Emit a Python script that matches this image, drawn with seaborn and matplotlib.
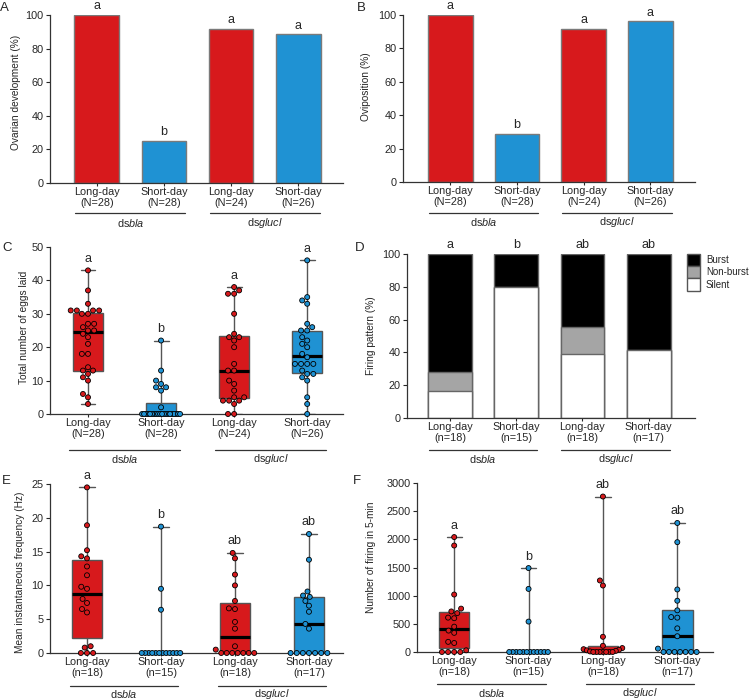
import numpy as np
import pandas as pd
import seaborn as sns
import matplotlib.pyplot as plt
from matplotlib.patches import Patch
from matplotlib.transforms import offset_copy

sns.set_style("ticks")
plt.rcParams["font.family"] = ["Liberation Sans", "DejaVu Sans"]
plt.rcParams["mathtext.fontset"] = "custom"
plt.rcParams["mathtext.rm"] = "Liberation Sans"
plt.rcParams["mathtext.it"] = "Liberation Sans:italic"

# --------------------------------------------------
# Data
# --------------------------------------------------
groups = ["bla_LD", "bla_SD", "glucl_LD", "glucl_SD"]
colors = ["#d7191c", "#1f92d3", "#d7191c", "#1f92d3"]
group_names = [r"ds$\mathit{bla}$", r"ds$\mathit{glucl}$"]

labels_N = ["Long-day\n(N=28)", "Short-day\n(N=28)", "Long-day\n(N=24)", "Short-day\n(N=26)"]
labels_n = ["Long-day\n(n=18)", "Short-day\n(n=15)", "Long-day\n(n=18)", "Short-day\n(n=17)"]

# A / B: percentages
ovary_pct = [100, 25.0, 91.7, 88.5]
ovary_letters = ["a", "b", "a", "a"]
ovipos_pct = [100, 28.6, 91.7, 96.2]
ovipos_letters = ["a", "b", "a", "a"]

# C: eggs laid per female
eggs_bla_ld = [43, 37, 33, 31, 31, 31, 31, 30, 30, 27, 27, 26, 25, 25, 24, 23, 21,
               18, 18, 14, 13, 13, 12, 11, 10, 6, 5, 3]
eggs_bla_sd = [22, 13, 10, 9, 8, 8, 7, 2] + [0] * 20
eggs_glucl_ld = [38, 37, 36, 36, 30, 24, 23, 23, 22, 20, 15, 13, 13, 10, 9, 7, 5, 5,
                 4, 4, 4, 3, 0, 0]
eggs_glucl_sd = [46, 35, 34, 33, 27, 26, 25, 25, 23, 22, 21, 20, 18, 17, 15, 15, 15,
                 15, 13, 12, 12, 11, 10, 5, 3, 0]
eggs_letters = ["a", "b", "a", "a"]

# D: firing pattern (%)
silent = [16.7, 80.0, 38.9, 41.2]
nonburst = [11.1, 0.0, 16.7, 0.0]
burst = [72.2, 20.0, 44.4, 58.8]
firing_letters = ["a", "b", "ab", "ab"]

# E: mean instantaneous frequency (Hz)
freq_bla_ld = [24.5, 18.9, 15.2, 14.3, 14.0, 12.8, 11.5, 9.8, 9.5, 8.0, 7.4, 6.5,
               6.0, 1.0, 0.8, 0, 0, 0]
freq_bla_sd = [18.7, 9.5, 6.4] + [0] * 12
freq_glucl_ld = [14.8, 14.0, 11.6, 10.0, 7.7, 6.6, 6.5, 4.6, 3.6, 1.0, 0.5] + [0] * 7
freq_glucl_sd = [17.6, 13.8, 9.1, 8.5, 8.3, 7.7, 7.0, 6.1, 4.3, 3.6] + [0] * 7
freq_letters = ["a", "b", "ab", "ab"]

# F: number of firing in 5-min
count_bla_ld = [2040, 1890, 1020, 770, 720, 690, 610, 600, 450, 380, 340, 180, 160,
                30, 0, 0, 0, 0]
count_bla_sd = [1490, 1120, 540] + [0] * 12
count_glucl_ld = [2760, 1270, 1180, 270, 110, 70, 50, 40, 30, 20, 10] + [0] * 7
count_glucl_sd = [2290, 1950, 1110, 910, 740, 620, 610, 420, 280, 60] + [0] * 7
count_letters = ["a", "b", "ab", "ab"]

# --------------------------------------------------
# Helpers
# --------------------------------------------------
W, H = 749, 700
fig = plt.figure(figsize=(W / 100, H / 100), dpi=100)
TICK_FS = 7.8
swarm_layers = []


def px_axes(left, top, right, bottom):
    return fig.add_axes([left / W, 1 - bottom / H, (right - left) / W, (bottom - top) / H])


def style_axis(ax, ticklabels, ylabel, ylim, yticks, xlim, lab_xy,
               ul_span=0.8, ul_off=32, gl_off=41):
    ax.set_xlim(*xlim)
    ax.set_ylim(*ylim)
    ax.set_yticks(yticks)
    ax.set_xticks(range(4))
    ax.set_xticklabels(ticklabels, fontsize=TICK_FS, linespacing=1.1)
    ax.set_xlabel("")
    ax.set_ylabel(ylabel, fontsize=7.3)
    ax.yaxis.set_label_coords(*lab_xy)
    ax.tick_params(axis="y", length=3, width=0.8, labelsize=TICK_FS, pad=1.5)
    ax.tick_params(axis="x", length=2, width=0.8, pad=1.2)
    for s in ["top", "right"]:
        ax.spines[s].set_visible(False)
    for s in ["left", "bottom"]:
        ax.spines[s].set_color("#333333")
        ax.spines[s].set_linewidth(0.9)
    # group underline + names
    t_line = offset_copy(ax.get_xaxis_transform(), fig=fig, y=-ul_off, units="dots")
    t_name = offset_copy(ax.get_xaxis_transform(), fig=fig, y=-gl_off, units="dots")
    for k, name in enumerate(group_names):
        c = 0.5 + 2 * k
        ax.plot([c - ul_span, c + ul_span], [0, 0], color="#333333", lw=0.9,
                transform=t_line, clip_on=False)
        ax.text(c, 0, name, transform=t_name, ha="center", va="center", fontsize=TICK_FS)


def add_letters(ax, tops, letters, off=3):
    for i, (t, l) in enumerate(zip(tops, letters)):
        ax.annotate(l, xy=(i, t), xytext=(0, off), textcoords="offset points",
                    ha="center", va="bottom", fontsize=9, annotation_clip=False)


def bar_panel(ax, values):
    sns.barplot(x=groups, y=values, order=groups, hue=groups, hue_order=groups,
                palette=colors, saturation=1, width=0.67, edgecolor="#7a7a7a",
                linewidth=1, errorbar=None, legend=False, ax=ax)


def box_panel(ax, series):
    df = pd.DataFrame({"grp": np.repeat(groups, [len(s) for s in series]),
                       "val": np.concatenate(series)})
    sns.boxplot(data=df, x="grp", y="val", order=groups, hue="grp", hue_order=groups,
                palette=colors, saturation=1, width=0.41, whis=(0, 100),
                showfliers=False, linecolor="#555555", linewidth=1,
                medianprops=dict(color="black", linewidth=2.3), legend=False, ax=ax)
    n0 = len(ax.collections)
    sns.swarmplot(data=df, x="grp", y="val", order=groups, hue="grp", hue_order=groups,
                  palette=colors, size=3.6, edgecolor="black", linewidth=0.6,
                  legend=False, ax=ax, zorder=3, warn_thresh=1)
    for c in ax.collections[n0:]:
        c.set_clip_on(False)
        swarm_layers.append((ax, c))
    return [max(s) for s in series]


def squeeze_rows(ax, coll, half=0.26, band_px=4):
    # Prism-style: long rows of equal values are squeezed (overlapping) into the box width
    xy = np.asarray(coll.get_offsets(), dtype=float).copy()
    if len(xy) < 2:
        return
    center = np.round(np.median(xy[:, 0]))
    ypx = ax.transData.transform(xy)[:, 1]
    bands = np.floor((ypx - ypx.min()) / band_px)
    for b in np.unique(bands):
        idx = np.where(bands == b)[0]
        dx = xy[idx, 0] - center
        if len(idx) > 1 and np.abs(dx).max() > half:
            order = idx[np.argsort(dx)]
            xy[order, 0] = center + np.linspace(-half, half, len(idx))
    coll.set_offsets(xy)


# --------------------------------------------------
# A: ovarian development
# --------------------------------------------------
axA = px_axes(50, 15, 343, 183)
bar_panel(axA, ovary_pct)
style_axis(axA, labels_N, "Ovarian development (%)", (0, 100), range(0, 101, 20),
           (-0.70, 3.67), (-0.10, 0.54), ul_span=0.82, ul_off=30, gl_off=40)
add_letters(axA, ovary_pct, ovary_letters, off=2)

# --------------------------------------------------
# B: oviposition
# --------------------------------------------------
axB = px_axes(403, 15, 695, 182)
bar_panel(axB, ovipos_pct)
style_axis(axB, labels_N, "Oviposition (%)", (0, 100), range(0, 101, 20),
           (-0.71, 3.67), (-0.111, 0.57), ul_span=0.82, ul_off=31, gl_off=40)
add_letters(axB, ovipos_pct, ovipos_letters, off=2)

# --------------------------------------------------
# C: eggs laid
# --------------------------------------------------
axC = px_axes(50, 247, 343, 414)
tops = box_panel(axC, [eggs_bla_ld, eggs_bla_sd, eggs_glucl_ld, eggs_glucl_sd])
style_axis(axC, labels_N, "Total number of eggs laid", (0, 50), range(0, 51, 10),
           (-0.52, 3.49), (-0.070, 0.52), ul_span=0.76, ul_off=36, gl_off=45)
add_letters(axC, tops, eggs_letters, off=4)

# --------------------------------------------------
# D: firing pattern (stacked)
# --------------------------------------------------
axD = px_axes(407, 254, 695, 418)
tot = [s + n + b for s, n, b in zip(silent, nonburst, burst)]
mid = [s + n for s, n in zip(silent, nonburst)]
for vals, col in [(tot, "black"), (mid, "#a5a5a5"), (silent, "white")]:
    sns.barplot(x=groups, y=vals, order=groups, color=col, saturation=1, width=0.66,
                edgecolor="#666666", linewidth=1, errorbar=None, ax=axD)
style_axis(axD, labels_n, "Firing pattern (%)", (0, 100), range(0, 101, 20),
           (-0.65, 3.70), (-0.109, 0.5), ul_span=0.82, ul_off=32, gl_off=41)
add_letters(axD, tot, firing_letters, off=2)
axD.legend(handles=[Patch(fc="black", ec="#555555", label="Burst"),
                    Patch(fc="#a5a5a5", ec="#555555", label="Non-burst"),
                    Patch(fc="white", ec="#555555", label="Silent")],
           loc="upper left", bbox_to_anchor=(0.972, 1.0), frameon=False, fontsize=7,
           handlelength=1.35, handleheight=1.55, labelspacing=0, handletextpad=0.6,
           borderpad=0, borderaxespad=0)

# --------------------------------------------------
# E: mean instantaneous frequency
# --------------------------------------------------
axE = px_axes(50, 484, 343, 653)
tops = box_panel(axE, [freq_bla_ld, freq_bla_sd, freq_glucl_ld, freq_glucl_sd])
style_axis(axE, labels_n, "Mean instantaneous frequency (Hz)", (0, 25), range(0, 26, 5),
           (-0.50, 3.46), (-0.084, 0.48), ul_span=0.73, ul_off=33, gl_off=41)
add_letters(axE, tops, freq_letters, off=4)

# --------------------------------------------------
# F: number of firing
# --------------------------------------------------
axF = px_axes(417, 483, 713, 652)
tops = box_panel(axF, [count_bla_ld, count_bla_sd, count_glucl_ld, count_glucl_sd])
style_axis(axF, labels_n, "Number of firing in 5-min", (0, 3000), range(0, 3001, 500),
           (-0.50, 3.48), (-0.140, 0.56), ul_span=0.73, ul_off=32, gl_off=41)
add_letters(axF, tops, count_letters, off=4)

# panel letters
for letter, x, y in [("A", 0, 2), ("B", 357, 2), ("C", 2, 242), ("D", 355, 242),
                     ("E", 2, 475), ("F", 353, 475)]:
    fig.text(x / W, 1 - y / H, letter, ha="left", va="top", fontsize=9.5)

# run the beeswarm layout once, then freeze positions and squeeze crowded rows
fig.canvas.draw()
for ax, c in swarm_layers:
    if "draw" in c.__dict__:
        del c.draw
    squeeze_rows(ax, c)

plt.savefig("out.png", dpi=100)
